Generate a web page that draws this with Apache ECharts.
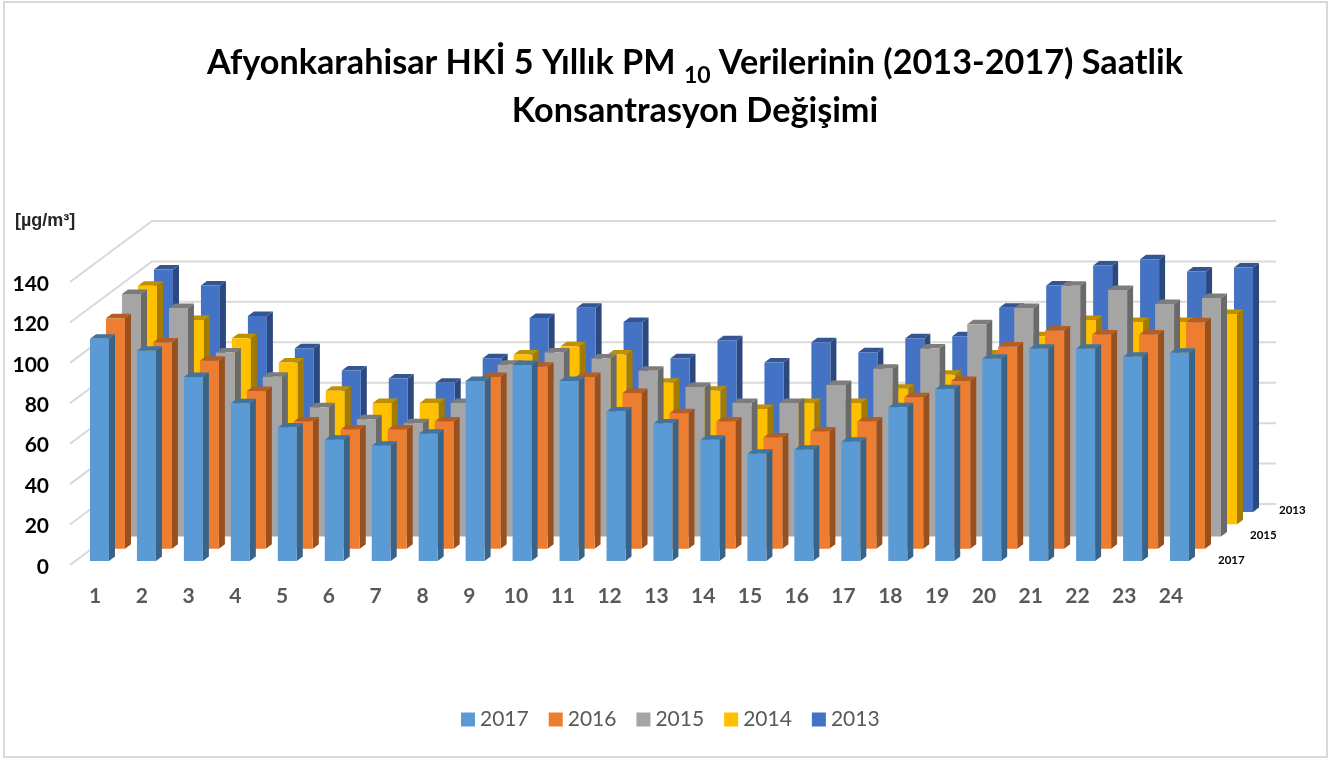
<!DOCTYPE html>
<html lang="tr">

<head>
    <meta charset="utf-8">
    <title>PM10</title>
    <script src="https://cdn.jsdelivr.net/npm/echarts@6/dist/echarts.min.js"></script>
    <style>
        html, body { margin: 0; padding: 0; background: #fff; }
        #chart { width: 1344px; height: 761px; }
    </style>
</head>

<body>
<div id="chart"></div>
<script>
    var hours = ['1','2','3','4','5','6','7','8','9','10','11','12','13','14','15','16','17','18','19','20','21','22','23','24'];
    var years = ['2017','2016','2015','2014','2013'];
    var yTicks = [0,20,40,60,80,100,120,140];
    var depthLabels = ['2017','2015','2013'];

    var y2017 = [110,104,91,78,66,60,57,63,89,97,89,74,68,60,53,55,59,76,85,100,105,105,101,103];
    var y2016 = [114,102,93,78,63,59,59,63,85,90,85,77,67,63,55,58,63,75,83,100,108,106,106,112];
    var y2015 = [120,113,91,79,64,58,56,66,85,91,88,82,74,66,66,75,83,93,105,113,124,122,115,118];
    var y2014 = [118,101,92,80,66,60,60,62,84,88,84,70,66,57,60,60,67,74,84,93,101,100,100,104];
    var y2013 = [120,112,97,81,70,66,64,76,96,101,94,76,85,74,84,79,86,87,101,112,122,125,119,121];
    var values = [y2017, y2016, y2015, y2014, y2013];

    // front, side, top
    var colors = [
        ['#5b9bd5', '#3a6487', '#41749f'],
        ['#ed7d31', '#98501f', '#b35e25'],
        ['#a5a5a5', '#6a6a6a', '#7c7c7c'],
        ['#ffc000', '#a37b00', '#bf9000'],
        ['#4472c4', '#2b497e', '#335693']
    ];

    var font = 'Lato, "Open Sans", sans-serif';
    var barW = 19, sideX = 6, sideY = 4.5;
    var stepX = 16, stepY = 12.25, frontY = 4;

    function barItem(depth) {
        return function (params, api) {
            var top = api.coord([api.value(0), api.value(1)]);
            var base = api.coord([api.value(0), 0]);
            var x = top[0] - barW / 2 + depth * stepX;
            var dy = frontY + depth * stepY;
            var y0 = top[1] - dy, y1 = base[1] - dy;
            var c = colors[depth];
            return {
                type: 'group',
                children: [
                    { type: 'polygon', shape: { points: [[x + barW, y0], [x + barW + sideX, y0 - sideY], [x + barW + sideX, y1 - sideY], [x + barW, y1]] }, style: { fill: c[1] } },
                    { type: 'polygon', shape: { points: [[x, y0], [x + sideX, y0 - sideY], [x + barW + sideX, y0 - sideY], [x + barW, y0]] }, style: { fill: c[2] } },
                    { type: 'rect', shape: { x: x, y: y0, width: barW, height: y1 - y0 }, style: { fill: c[0] } }
                ]
            };
        };
    }

    // the floor and wall lines of the 3d box
    function wallItem(params, api) {
        var y = api.coord([0, api.value(0)])[1];
        var left = params.coordSys.x - 6;
        return {
            type: 'polyline',
            shape: { points: [[left, y], [left + 82, y - 61], [1276, y - 61]] },
            style: { fill: 'none', stroke: '#d9d9d9', lineWidth: 2 }
        };
    }

    var series = [{
        name: 'walls',
        type: 'custom',
        renderItem: wallItem,
        data: yTicks.map(function (v) { return [v]; }),
        encode: { y: 0 },
        silent: true,
        z: 1
    }];

    for (var d = years.length - 1; d >= 0; d--) {
        series.push({
            name: years[d],
            type: 'custom',
            renderItem: barItem(d),
            data: values[d].map(function (v, i) { return [i, v]; }),
            encode: { x: 0, y: 1 },
            itemStyle: { color: colors[d][0] },
            z: 10 - d
        });
    }

    var myChart = echarts.init(document.getElementById('chart'), null, { renderer: 'canvas' });
    var option = {
        animation: false,
        backgroundColor: '#fff',
        title: {
            left: 690,
            top: 34,
            textAlign: 'center',
            text: '{t|Afyonkarahisar HKİ 5 Yıllık PM }{s|10}{t| Verilerinin (2013-2017) Saatlik}\n{t|Konsantrasyon Değişimi}',
            textStyle: {
                rich: {
                    t: { fontFamily: font, fontSize: 34.2, fontWeight: 'bold', color: '#000', lineHeight: 48 },
                    s: { fontFamily: font, fontSize: 23, fontWeight: 'bold', color: '#000', verticalAlign: 'bottom' }
                }
            }
        },
        legend: {
            left: 456,
            top: 704,
            icon: 'rect',
            itemWidth: 14,
            itemHeight: 14,
            itemGap: 20,
            data: years,
            textStyle: { fontFamily: font, fontSize: 21, color: '#595959' }
        },
        grid: [
            { left: 76, width: 1127, top: 282, bottom: 196 },
            { left: 71.6, width: 1122.8, top: 282, bottom: 196 }
        ],
        xAxis: [
            { type: 'category', gridIndex: 0, data: hours, axisLine: { show: false }, axisTick: { show: false }, axisLabel: { show: false } },
            {
                type: 'category', gridIndex: 1, data: hours,
                axisLine: { show: false }, axisTick: { show: false },
                axisLabel: { interval: 0, margin: 21, fontFamily: font, fontSize: 21, fontWeight: 'bold', color: '#595959' }
            }
        ],
        yAxis: [
            {
                type: 'value', gridIndex: 0, min: 0, max: 140, interval: 20,
                axisLine: { show: false }, axisTick: { show: false }, splitLine: { show: false },
                axisLabel: { margin: 27, verticalAlign: 'top', lineHeight: 4, fontFamily: font, fontSize: 21, fontWeight: 'bold', color: '#000' }
            },
            { type: 'value', gridIndex: 1, min: 0, max: 140, show: false }
        ],
        graphic: [
            { type: 'rect', silent: true, shape: { x: 4, y: 2, width: 1323, height: 755 }, style: { fill: 'none', stroke: '#d9d9d9', lineWidth: 2 } },
            { type: 'text', left: 15, top: 212, style: { text: '[µg/m³]', fontFamily: '"Liberation Sans", Arial', fontSize: 18, fontWeight: 'bold', fill: '#262626' } },
            { type: 'text', left: 1218, top: 554, style: { text: depthLabels[0], fontFamily: font, fontSize: 11.5, fontWeight: 'bold', fill: '#000' } },
            { type: 'text', left: 1250, top: 529, style: { text: depthLabels[1], fontFamily: font, fontSize: 11.5, fontWeight: 'bold', fill: '#000' } },
            { type: 'text', left: 1279, top: 504, style: { text: depthLabels[2], fontFamily: font, fontSize: 11.5, fontWeight: 'bold', fill: '#000' } }
        ],
        series: series
    };
    myChart.setOption(option);
</script>
</body>
</html>
